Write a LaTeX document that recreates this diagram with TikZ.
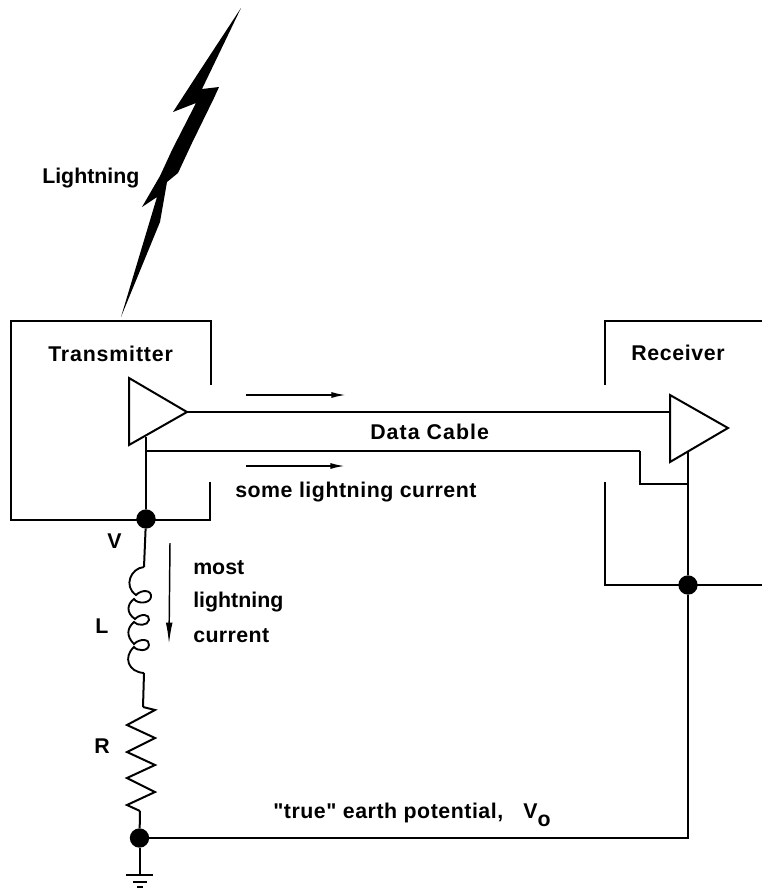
\documentclass[tikz,border=0pt]{standalone}
\usepackage{fontspec}
\setmainfont[Ligatures=TeXOff]{Liberation Sans Bold}
\newcommand{\spc}[1]{\addfontfeature{LetterSpace=#1}}
\usetikzlibrary{arrows.meta}
\tikzset{
  wire/.style={line width=1.5pt,line join=miter},
  thick wire/.style={line width=2pt},
  dotnode/.style={circle,fill=black,inner sep=0pt,minimum size=14.5pt},
  lab/.style={inner sep=0pt,font=\fontsize{16}{18}\selectfont,anchor=base west},
  flow/.style={line width=1.3pt,-{Latex[length=11pt,width=4.5pt]}}
}
\begin{document}
\begin{tikzpicture}[x=0.75pt,y=-0.75pt]
\useasboundingbox (0,0) rectangle (762,890);
% lightning
\fill (241,8) -- (202,89) -- (219,87) -- (214,98) -- (192,143) -- (178,173) -- (167,182) -- (160,222) -- (121,317) -- (157,197) -- (142,207) -- (160,176) -- (172,150) -- (196,103) -- (173,112) -- (199,72) -- cycle;
% named points
\coordinate (txA) at (211,385); \coordinate (txB) at (211,321); \coordinate (txC) at (11,321);
\coordinate (txD) at (11,520); \coordinate (txE) at (210,520); \coordinate (txF) at (210,482);
\coordinate (rxA) at (605,385); \coordinate (rxB) at (605,321); \coordinate (rxC) at (762,321);
\coordinate (rxD) at (605,482); \coordinate (rxE) at (605,585); \coordinate (rxF) at (762,585);
\coordinate (t1) at (129,378); \coordinate (t2) at (129,445); \coordinate (t3) at (187,412);
\coordinate (r1) at (670,395); \coordinate (r2) at (670,462); \coordinate (r3) at (728,428);
\coordinate (txg) at (146,437); \coordinate (rxg) at (688,452);
\coordinate (shj) at (146,451); \coordinate (b1) at (640,451); \coordinate (b2) at (640,484); \coordinate (b3) at (688,484);
\coordinate (rxin) at (670,412);
\node[dotnode] (dV) at (146,519) {};
\node[dotnode] (dRx) at (688,585) {};
\node[dotnode] (dE) at (139.5,838) {};
\coordinate (indT) at (144,567); \coordinate (indB) at (144,673);
\coordinate (resT) at (143,707); \coordinate (resB) at (140,811);
\coordinate (g0) at (139.5,875);
% boxes
\draw[wire] (txA) -- (txB) -- (txC) -- (txD) -- (txE) -- (txF);
\draw[wire] (rxA) -- (rxB) -- (rxC);
\draw[wire] (rxD) -- (rxE) -- (rxF);
% amps
\draw[wire,line join=miter] (t1) -- (t3) -- (t2) -- cycle;
\draw[wire,line join=miter] (r1) -- (r3) -- (r2) -- cycle;
% cable
\draw[thick wire] (t3) -- (rxin);
\draw[thick wire] (shj) -- (b1);
\draw[wire] (b1) -- (b2) -- (b3);
\draw[wire] (txg) -- (dV);
\draw[wire] (rxg) -- (dRx);
\draw[wire] (dRx) |- (dE);
% inductor
\draw[wire] (dV) -- (indT);
\draw[line width=1.4pt] (indT) .. controls (131,568) and (123,586) .. (136,595)
  .. controls (142,589) and (152,590) .. (151,597) .. controls (150,604) and (137,604) .. (134,599)
  .. controls (127,604) and (126,613) .. (135,619)
  .. controls (141,613) and (150,614) .. (149,620) .. controls (148,626) and (137,626) .. (134,622)
  .. controls (127,628) and (126,636) .. (134,644)
  .. controls (140,638) and (150,639) .. (149,645) .. controls (148,652) and (137,651) .. (134,647)
  .. controls (123,657) and (128,672) .. (indB);
\draw[wire] (indB) -- (resT);
% resistor
\draw[wire] (resT) -- (155,710) -- (127,725) -- (155,738) -- (127,752) -- (155,765) -- (127,778) -- (155,792) -- (127,805) -- (resB);
\draw[wire] (resB) -- (dE);
% ground
\draw[wire] (dE) -- (g0);
\node[inner sep=0pt,minimum width=20.2pt,minimum height=1.5pt,fill=black] (g1) at (g0) {};
\node[inner sep=0pt,minimum width=10.5pt,minimum height=1.5pt,fill=black] (g2) at (140,882) {};
\node[inner sep=0pt,minimum width=4.5pt,minimum height=1.5pt,fill=black] (g3) at (140,887) {};
% flow arrows
\coordinate (fa1) at (246,395); \coordinate (fa2) at (346,395);
\coordinate (fb1) at (246,466); \coordinate (fb2) at (345,466);
\coordinate (fc1) at (170,543); \coordinate (fc2) at (169,644);
\draw[flow] (fa1) -- (fa2);
\draw[flow] (fb1) -- (fb2);
\draw[line width=1.1pt,-{Latex[length=16pt,width=5pt]}] (fc1) -- (fc2);
% labels
\node[lab] (tLight) at (42,183) {Lightning};
\node[lab] (tTx) at (48,361) {\spc{4}Transmitter};
\node[lab] (tRx) at (631,360) {\spc{3}Receiver};
\node[lab] (tData) at (370,439) {\spc{5}Data Cable};
\node[lab] (tSome) at (235,497) {\spc{2.5}some lightning current};
\node[lab] (tV) at (107,548) {V};
\node[lab] (tmost) at (193,574) {most};
\node[lab] (tlight2) at (193,607) {lightning};
\node[lab] (tcur) at (193,642) {\spc{2}current};
\node[lab] (tL) at (95,633) {L};
\node[lab] (tR) at (94,753) {R};
\node[lab] (tTrue) at (273,818) {\spc{2.5}"true" earth potential,\hspace{15pt}V\raisebox{-6pt}{o}};
\end{tikzpicture}
\end{document}
